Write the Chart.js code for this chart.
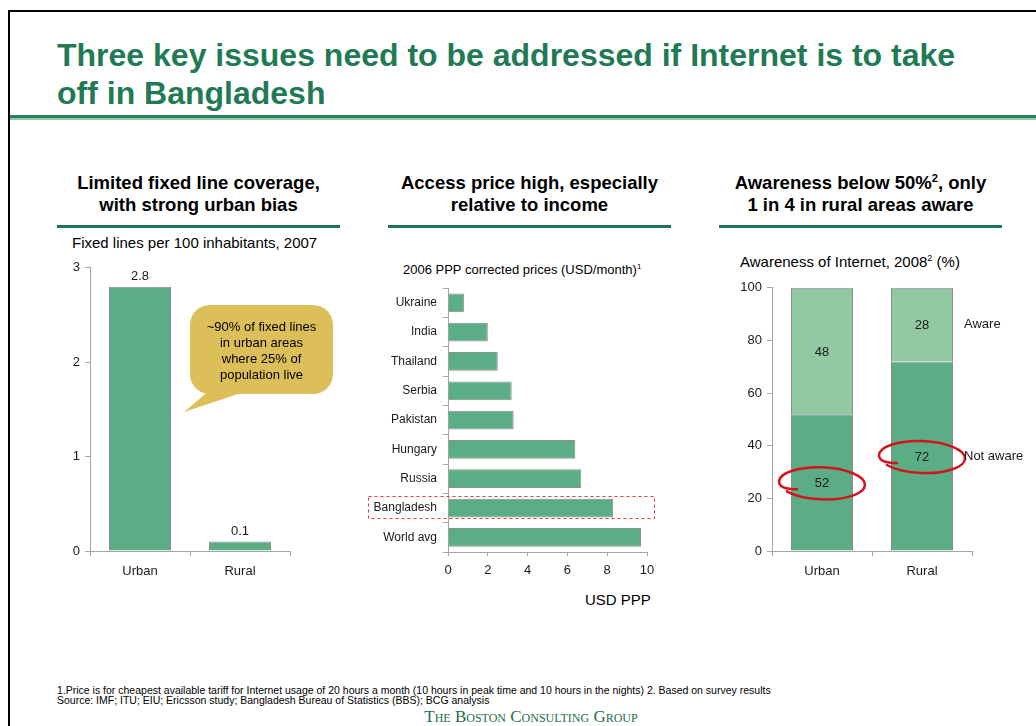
<!DOCTYPE html>
<html>
<head>
<meta charset="utf-8">
<script src="https://cdn.jsdelivr.net/npm/chart.js@4.4.0/dist/chart.umd.min.js"></script>
<style>
  body { margin:0; width:1036px; height:726px; position:relative; background:#fff; overflow:hidden;
         font-family: Arial, 'Liberation Sans', sans-serif; color:#000; }
  .abs { position:absolute; }
  .frame-top { left:8px; top:10px; width:1028px; height:2px; background:#000; }
  .frame-left { left:8px; top:10px; width:2px; height:716px; background:#000; }
  h1 { position:absolute; left:57px; top:36px; margin:0; font-size:32px; line-height:38px; color:#1f7a55; font-weight:bold; white-space:nowrap; }
  .title-rule { left:10px; top:115px; width:1026px; height:3px; background:#23805a; border-bottom:2px solid #93c9aa; }
  .head { top:172px; width:283px; font-weight:bold; font-size:18.5px; line-height:22px; text-align:center; white-space:nowrap; }
  .rule { top:225px; width:283px; height:3px; background:#1d7552; }
  .sub { white-space:nowrap; }
  sup { font-size:60%; line-height:0; vertical-align:super; }
  canvas { position:absolute; }
  .bubble-text { left:190px; top:319px; width:143px; text-align:center; font-size:13px; line-height:16px; }
  .notes { left:57px; top:685px; font-size:10.5px; line-height:10px; white-space:nowrap; }
  .brand { left:331px; top:707px; width:400px; text-align:center; font-family:'Liberation Serif', 'DejaVu Serif', serif;
           font-variant:small-caps; font-size:17px; color:#1e6e4a; }
</style>
</head>
<body>
<div class="abs frame-top"></div>
<div class="abs frame-left"></div>
<h1>Three key issues need to be addressed if Internet is to take<br>off in Bangladesh</h1>
<div class="abs title-rule"></div>

<div class="abs head" style="left:57px">Limited fixed line coverage,<br>with strong urban bias</div>
<div class="abs rule" style="left:57px"></div>
<div class="abs sub" style="left:72px;top:234px;font-size:15px;">Fixed lines per 100 inhabitants, 2007</div>

<div class="abs head" style="left:388px">Access price high, especially<br>relative to income</div>
<div class="abs rule" style="left:388px"></div>
<div class="abs sub" style="left:403px;top:262px;font-size:13px;">2006 PPP corrected prices (USD/month)<sup>1</sup></div>
<div class="abs sub" style="left:585px;top:591px;font-size:15px;">USD PPP</div>

<div class="abs head" style="left:719px">Awareness below 50%<sup>2</sup>, only<br>1 in 4 in rural areas aware</div>
<div class="abs rule" style="left:719px"></div>
<div class="abs sub" style="left:740px;top:253px;font-size:15px;">Awareness of Internet, 2008<sup>2</sup> (%)</div>

<canvas id="fixedChart" width="280" height="340" style="left:60px;top:255px"></canvas>
<canvas id="priceChart" width="320" height="310" style="left:360px;top:275px"></canvas>
<canvas id="awareChart" width="316" height="315" style="left:720px;top:275px"></canvas>

<!-- speech bubble on the fixed line chart -->
<svg class="abs" style="left:180px;top:300px" width="160" height="120">
  <rect x="10" y="5" width="143" height="89" rx="20" ry="20" fill="#dcbf58"/>
  <polygon points="30,90 70,90 4,112" fill="#dcbf58"/>
</svg>
<div class="abs bubble-text">~90% of fixed lines<br>in urban areas<br>where 25% of<br>population live</div>

<div class="abs notes">1.Price is for cheapest available tariff for Internet usage of 20 hours a month (10 hours in peak time and 10 hours in the nights) 2. Based on survey results<br>Source: IMF; ITU; EIU; Ericsson study; Bangladesh Bureau of Statistics (BBS); BCG analysis</div>
<div class="abs brand">The Boston Consulting Group</div>

<script>
// fixed lines per 100 inhabitants
const areas = ['Urban', 'Rural'];
const fixedLines = [2.8, 0.1];

// PPP corrected access prices, USD/month
const countries = ['Ukraine', 'India', 'Thailand', 'Serbia', 'Pakistan', 'Hungary', 'Russia', 'Bangladesh', 'World avg'];
const prices = [0.8, 2.0, 2.5, 3.2, 3.3, 6.4, 6.7, 8.3, 9.7];
const highlighted = 'Bangladesh';

// awareness of internet, %
const notAware = [52, 72];
const aware = [48, 28];
const seriesNames = ['Not aware', 'Aware'];

const green = '#5aad84';
const lightGreen = '#92c8a2';
const barEdge = '#8c8c8c';
const axisGray = '#a6a6a6';
const inkCol = '#1a1a1a';

Chart.defaults.font.family = "Arial, 'Liberation Sans', sans-serif";
Chart.defaults.color = inkCol;
Chart.defaults.animation = false;
Chart.defaults.responsive = false;
Chart.defaults.devicePixelRatio = 1;
Chart.defaults.plugins.legend.display = false;
Chart.defaults.plugins.tooltip.enabled = false;

function axis(opts, fit) {
  return Object.assign({
    border: { color: axisGray, width: 1 },
    grid: { drawOnChartArea: false, color: axisGray, tickLength: 5 },
    afterFit: fit
  }, opts);
}

// value above each bar
const valueLabels = {
  id: 'valueLabels',
  afterDatasetsDraw(chart) {
    const ctx = chart.ctx;
    ctx.save();
    ctx.font = '13px Arial, "Liberation Sans", sans-serif';
    ctx.fillStyle = inkCol;
    ctx.textAlign = 'center';
    ctx.textBaseline = 'bottom';
    chart.getDatasetMeta(0).data.forEach((bar, i) => {
      ctx.fillText(String(chart.data.datasets[0].data[i]), bar.x, bar.y - 4);
    });
    ctx.restore();
  }
};

// dashed box round the highlighted country
const highlightBox = {
  id: 'highlightBox',
  afterDraw(chart) {
    const idx = countries.indexOf(highlighted);
    const y = chart.scales.y.getPixelForValue(idx);
    const { left, right } = chart.chartArea;
    const ctx = chart.ctx;
    ctx.save();
    ctx.strokeStyle = '#e8343a';
    ctx.lineWidth = 1;
    ctx.setLineDash([3, 3]);
    ctx.strokeRect(left - 79.5, y - 11.5, right - left + 87, 22);
    ctx.restore();
  }
};

// hand-drawn red ring: starts with a hook inside on the left, goes round once
function drawLoop(ctx, cx, cy) {
  const rx = 43, ry = 16, rot = 0.04;
  ctx.save();
  ctx.strokeStyle = '#d3141c';
  ctx.lineWidth = 2.5;
  ctx.lineCap = 'round';
  ctx.beginPath();
  ctx.moveTo(cx - 25, cy + 6);
  ctx.quadraticCurveTo(cx - rx, cy + 6, cx - rx * Math.cos(rot), cy - rx * Math.sin(rot));
  ctx.ellipse(cx, cy, rx, ry, rot, Math.PI, Math.PI * 2.8);
  ctx.stroke();
  ctx.restore();
}

// segment values, series names beside the last bar, and the circled values
const stackLabels = {
  id: 'stackLabels',
  afterDatasetsDraw(chart) {
    const ctx = chart.ctx;
    ctx.save();
    ctx.font = '13px Arial, "Liberation Sans", sans-serif';
    ctx.fillStyle = inkCol;
    ctx.textBaseline = 'middle';
    chart.data.datasets.forEach((ds, d) => {
      const bars = chart.getDatasetMeta(d).data;
      bars.forEach((bar, i) => {
        const mid = (bar.y + bar.base) / 2;
        ctx.textAlign = 'center';
        ctx.fillText(String(ds.data[i]), bar.x, mid + 1);
        if (d === 0) drawLoop(ctx, bar.x, mid + 1);
      });
      const last = bars[bars.length - 1];
      ctx.textAlign = 'left';
      ctx.fillText(ds.label, last.x + last.width / 2 + 11, (last.y + last.base) / 2);
    });
    ctx.restore();
  }
};

new Chart(document.getElementById('fixedChart'), {
  type: 'bar',
  data: {
    labels: areas,
    datasets: [{ data: fixedLines, backgroundColor: green, borderColor: barEdge, borderWidth: 1,
                 barPercentage: 0.62, categoryPercentage: 1 }]
  },
  options: {
    layout: { padding: { top: 12, right: 50, bottom: 0, left: 0 } },
    scales: {
      x: axis({ grid: { drawOnChartArea: false, color: axisGray, tickLength: 5, offset: true },
                ticks: { font: { size: 13 }, padding: 8 } }, s => { s.height = 44; }),
      y: axis({ min: 0, max: 3, ticks: { stepSize: 1, font: { size: 13 }, padding: 5 } }, s => { s.width = 30; })
    }
  },
  plugins: [valueLabels]
});

new Chart(document.getElementById('priceChart'), {
  type: 'bar',
  data: {
    labels: countries,
    datasets: [{ data: prices, backgroundColor: green, borderColor: barEdge, borderWidth: 1,
                 barPercentage: 0.64, categoryPercentage: 1 }]
  },
  options: {
    indexAxis: 'y',
    layout: { padding: { top: 10, right: 33, bottom: 0, left: 0 } },
    scales: {
      x: axis({ min: 0, max: 10, grid: { drawOnChartArea: false, color: axisGray, tickLength: 4 },
                ticks: { stepSize: 2, font: { size: 13 }, padding: 7 } }, s => { s.height = 33; }),
      y: axis({ grid: { drawOnChartArea: false, color: axisGray, tickLength: 5, offset: true },
                ticks: { font: { size: 12 }, padding: 6 } }, s => { s.width = 88; })
    }
  },
  plugins: [highlightBox]
});

new Chart(document.getElementById('awareChart'), {
  type: 'bar',
  data: {
    labels: areas,
    datasets: [
      { label: seriesNames[0], data: notAware, backgroundColor: green, borderColor: barEdge, borderWidth: 1,
        barPercentage: 0.62, categoryPercentage: 1 },
      { label: seriesNames[1], data: aware, backgroundColor: lightGreen, borderColor: barEdge, borderWidth: 1,
        barPercentage: 0.62, categoryPercentage: 1 }
    ]
  },
  options: {
    layout: { padding: { top: 11, right: 64, bottom: 0, left: 0 } },
    scales: {
      x: axis({ stacked: true, grid: { drawOnChartArea: false, color: axisGray, tickLength: 5, offset: true },
                ticks: { font: { size: 13 }, padding: 8 } }, s => { s.height = 39; }),
      y: axis({ stacked: true, min: 0, max: 100, ticks: { stepSize: 20, font: { size: 13 }, padding: 5 } },
              s => { s.width = 52; })
    }
  },
  plugins: [stackLabels]
});
</script>
</body>
</html>
